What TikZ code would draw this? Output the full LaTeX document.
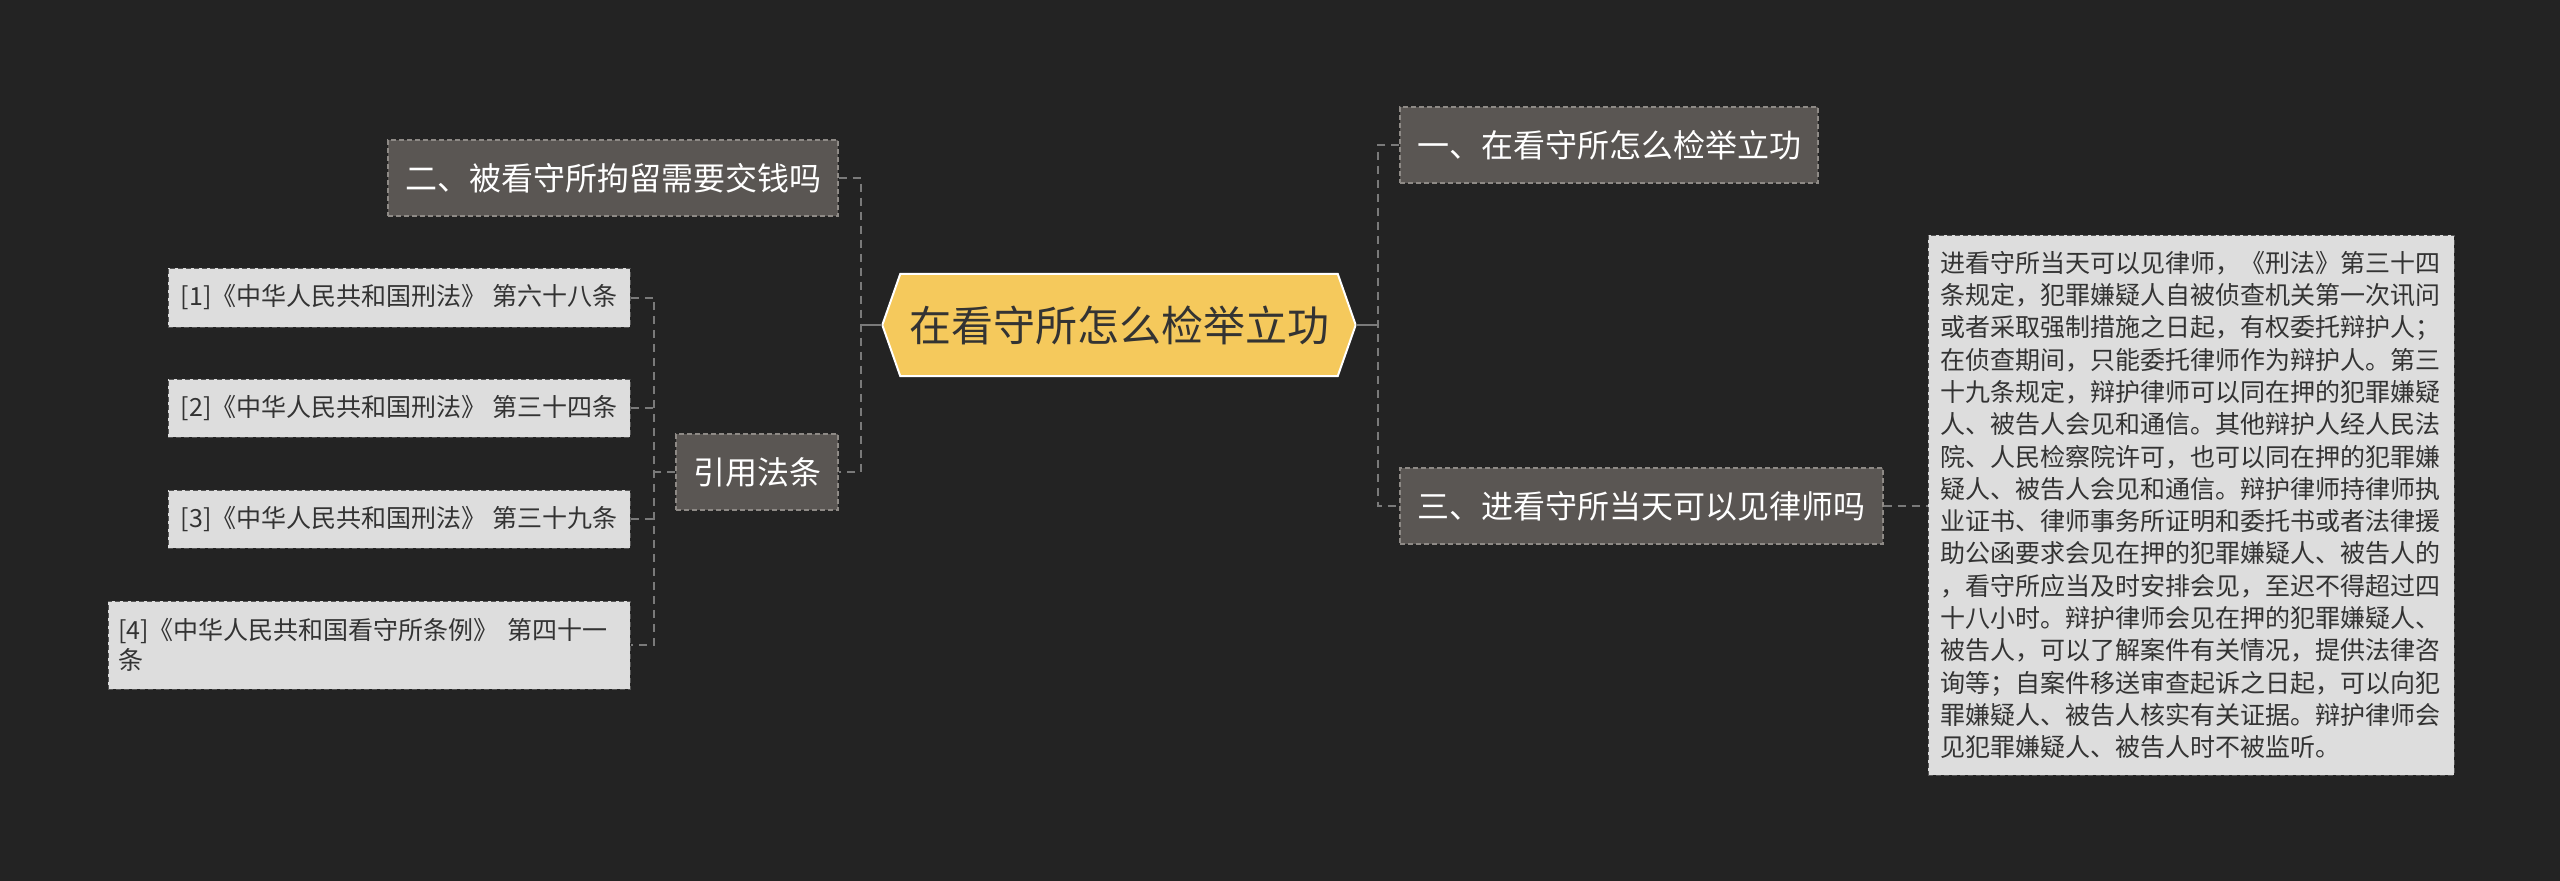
\documentclass[tikz,border=0pt]{standalone}
\usepackage{fontspec}
\setmainfont{Noto Sans CJK SC}
\usetikzlibrary{backgrounds}
\definecolor{bgc}{HTML}{232323}
\definecolor{boxgray}{HTML}{5A5653}
\definecolor{boxgrayline}{HTML}{8E8A86}
\definecolor{lightfill}{HTML}{DDDDDD}
\definecolor{lightline}{HTML}{555555}
\definecolor{hexfill}{HTML}{F5C95C}
\definecolor{linkc}{HTML}{7A7A7A}
\definecolor{darktext}{HTML}{333333}
\begin{document}
\begin{tikzpicture}[x=1pt,y=-1pt,
  graybox/.style={fill=boxgray, draw=boxgrayline, dash pattern=on 5pt off 3pt, line width=1.2pt,
    text=white, font=\fontsize{32}{38}\selectfont, inner sep=0pt, minimum height=76pt},
  lightbox/.style={fill=lightfill, draw=lightline, dash pattern=on 5pt off 3pt, line width=1pt,
    text=darktext, font=\fontsize{25}{30}\selectfont, inner sep=0pt},
  rootbox/.style={inner sep=0pt, minimum width=473pt, minimum height=102pt, text=darktext,
    font=\fontsize{42}{50}\selectfont},
  conn/.style={draw=linkc, line width=2pt, dash pattern=on 8pt off 6pt},
  stub/.style={draw=linkc, line width=2pt},
]
\useasboundingbox (0,0) rectangle (2560,881);

% root
\node[rootbox] (root) at (1119,325) {在看守所怎么检举立功};

% level 1
\node[graybox, minimum width=450pt] (n2) at (613,178) {二、被看守所拘留需要交钱吗};
\node[graybox, minimum width=162pt] (cite) at (757,472) {引用法条};
\node[graybox, minimum width=418pt] (n1) at (1609,145) {一、在看守所怎么检举立功};
\node[graybox, minimum width=483pt] (n3) at (1641.5,506) {三、进看守所当天可以见律师吗};

% detail box
\node[lightbox, minimum width=526pt, minimum height=540pt, text width=502pt, align=left,
  font=\fontsize{25}{32.3}\selectfont] (detail) at (2191,505) {%
进看守所当天可以见律师，《刑法》第三十四\\
条规定，犯罪嫌疑人自被侦查机关第一次讯问\\
或者采取强制措施之日起，有权委托辩护人；\\
在侦查期间，只能委托律师作为辩护人。第三\\
十九条规定，辩护律师可以同在押的犯罪嫌疑\\
人、被告人会见和通信。其他辩护人经人民法\\
院、人民检察院许可，也可以同在押的犯罪嫌\\
疑人、被告人会见和通信。辩护律师持律师执\\
业证书、律师事务所证明和委托书或者法律援\\
助公函要求会见在押的犯罪嫌疑人、被告人的\\
，看守所应当及时安排会见，至迟不得超过四\\
十八小时。辩护律师会见在押的犯罪嫌疑人、\\
被告人，可以了解案件有关情况，提供法律咨\\
询等；自案件移送审查起诉之日起，可以向犯\\
罪嫌疑人、被告人核实有关证据。辩护律师会\\
见犯罪嫌疑人、被告人时不被监听。};

% citations
\node[lightbox, minimum width=462pt, minimum height=59pt] (r1) at (399,297.5) {[1]《中华人民共和国刑法》 第六十八条};
\node[lightbox, minimum width=462pt, minimum height=58pt] (r2) at (399,408) {[2]《中华人民共和国刑法》 第三十四条};
\node[lightbox, minimum width=462pt, minimum height=58pt] (r3) at (399,519) {[3]《中华人民共和国刑法》 第三十九条};
\node[lightbox, minimum width=522pt, minimum height=88pt, text width=502pt, align=left] (r4) at (369,645) {[4]《中华人民共和国看守所条例》 第四十一\\条};

\coordinate (lt) at (861,325);
\coordinate (rt) at (1378,325);
\coordinate (ct) at (654,472);

\begin{scope}[on background layer]
  \fill[bgc] (0,0) rectangle (2560,881);
  \draw[fill=hexfill, draw=white, line width=2pt, line join=miter]
    (root.west) -- ([xshift=18pt]root.north west) -- ([xshift=-18pt]root.north east)
    -- (root.east) -- ([xshift=-18pt]root.south east) -- ([xshift=18pt]root.south west) -- cycle;
  \draw[stub] (root.west) -- (lt);
  \draw[stub] (root.east) -- (rt);
  \draw[conn] (n2.east) -| (lt) |- (cite.east);
  \draw[conn] (n1.west) -| (rt) |- (n3.west);
  \draw[conn] (n3.east) -- (n3.east -| detail.west);
  \draw[conn] (cite.west) -- (ct);
  \draw[conn] (r1.east) -| (ct) |- (r4.east);
  \draw[conn] (r2.east) -- (r2.east -| ct);
  \draw[conn] (r3.east) -- (r3.east -| ct);
\end{scope}
\end{tikzpicture}
\end{document}
